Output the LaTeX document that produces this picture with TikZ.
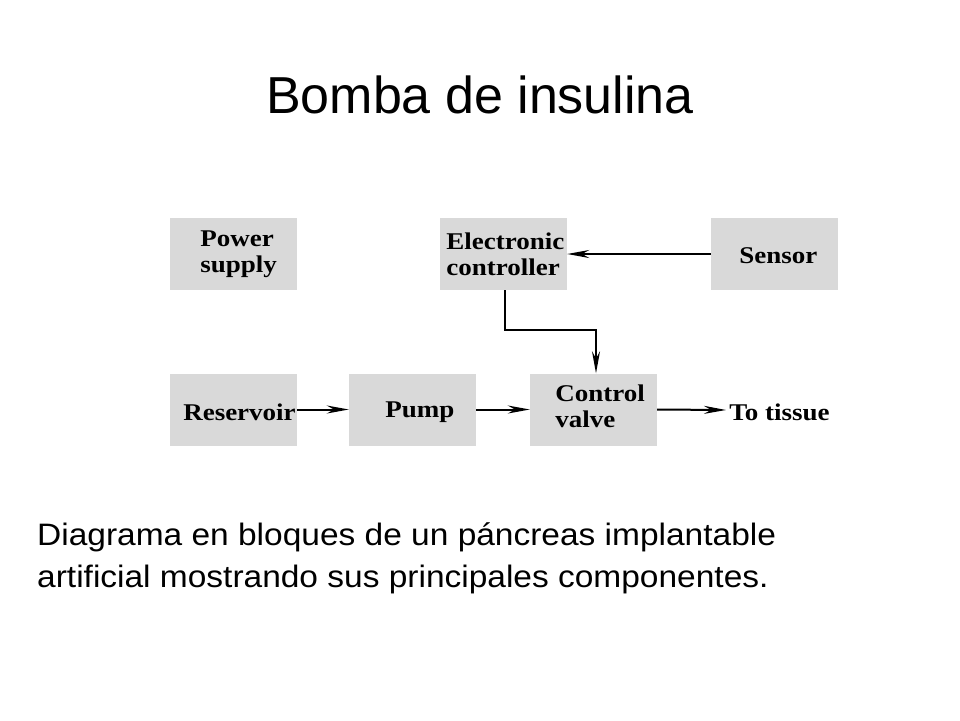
\documentclass[tikz,border=0pt]{standalone}
\usepackage{fontspec}
\setmainfont{Liberation Serif}
\newfontfamily\arial{Liberation Sans}
\usetikzlibrary{arrows.meta}
\definecolor{boxgray}{HTML}{D9D9D9}
\begin{document}
\begin{tikzpicture}[x=1pt,y=-1pt,
  blk/.style={fill=boxgray,draw=none,minimum width=127pt,minimum height=72pt,inner sep=0pt},
  lbl/.style={font=\fontsize{20}{22}\selectfont\bfseries,align=left,anchor=west,inner sep=0pt,xscale=1.35,yscale=1.2},
  conn/.style={line width=2pt,-{Stealth[length=22pt,width=8pt]}}]
\useasboundingbox (0,0) rectangle (960,720);
\node[font=\arial\fontsize{52}{56}\selectfont] (title) at (480,95) {Bomba de insulina};
\node[blk] (ps) at (233.5,254) {};
\node[blk] (ec) at (503.5,254) {};
\node[blk] (se) at (774.5,254) {};
\node[blk] (re) at (233.5,409.5) {};
\node[blk] (pu) at (412.5,409.5) {};
\node[blk] (cv) at (593.5,409.5) {};
\node[lbl] (pst) at (200,254) {Power\\supply};
\node[lbl] (ect) at (446,254) {Electronic\\controller};
\node[lbl] (set) at (739,256) {Sensor};
\node[lbl] (ret) at (183,412) {Reservoir};
\node[lbl] (put) at (385,412) {Pump};
\node[lbl] (cvt) at (555,406) {Control\\valve};
\node[lbl] (tt) at (729,412) {To tissue};
\coordinate (ttin) at (726,410);
\draw[conn] (se.west) -- (ec.east);
\draw[conn] (ec.south -| 505,0) -- (505,330) -- (596,330) -- (cv.north -| 596,0);
\draw[conn] (re.east) -- (pu.west);
\draw[conn] (pu.east) -- (cv.west);
\draw[conn] (cv.east) -- (ttin);
\node[font=\arial\fontsize{31}{42}\selectfont,align=left,anchor=north west,inner sep=0pt,xscale=1.08] (cap) at (37,522) {Diagrama en bloques de un páncreas implantable\\artificial mostrando sus principales componentes.};
\end{tikzpicture}
\end{document}
